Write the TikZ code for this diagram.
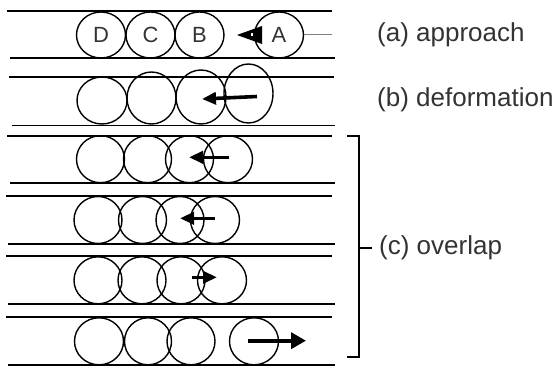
\documentclass[tikz,border=0pt]{standalone}
\usepackage{fontspec}
\setmainfont{Liberation Sans}
\usetikzlibrary{shapes.geometric,arrows.meta}
\definecolor{ink}{HTML}{333333}
\begin{document}
\begin{tikzpicture}[x=1pt,y=-1pt,
  rail/.style={line width=1.8pt},
  ball/.style={draw, ellipse, line width=1.4pt, inner sep=0pt,
    minimum width=49pt, minimum height=47pt,
    font=\fontsize{22}{24}\selectfont, text=ink},
  push/.style={line width=3.6pt, -{Triangle[length=14pt,width=12pt]}},
  bigpush/.style={line width=3.6pt, -{Triangle[length=15pt,width=16pt]}},
  lbl/.style={anchor=west, inner sep=0pt, text=ink,
    font=\fontsize{26}{30}\selectfont}]
\useasboundingbox (0,0) rectangle (555,369);

% channel walls of the six stages
\draw[rail] (7,10.7) -- (332,10.7);   \draw[rail] (10,58) -- (335,58);
\draw[rail] (9,76.7) -- (334,76.7);   \draw[rail] (12,125.5) -- (335,125.5);
\draw[rail] (7,135.7) -- (332,135.7); \draw[rail] (10,182.7) -- (335,182.7);
\draw[rail] (6,196.3) -- (332,196.3); \draw[rail] (8,244) -- (335,244);
\draw[rail] (6,256.3) -- (332,256.3); \draw[rail] (8,304.3) -- (335,304.3);
\draw[rail] (6,317.3) -- (332,317.3); \draw[rail] (8,365.3) -- (335,365.3);

% (a) approach
\node[ball, minimum height=46pt] (aD) at (101,35) {D};
\node[ball, minimum height=46pt] (aC) at (150.5,35) {C};
\node[ball, minimum height=46pt] (aB) at (199.5,35) {B};
\node[ball, minimum height=46pt] (aA) at (279,35) {A};
\coordinate (aTail) at (332,35);
\draw[gray, line width=1pt] (aA.east) -- (aTail);
\fill (237,35) -- (262,26) -- (262,44) -- cycle;
\fill[white] (251,33.5) rectangle (253,36.5);

% (b) deformation
\node[ball, minimum width=50pt, minimum height=47pt] (b1) at (102,100.5) {};
\node[ball, minimum width=49pt, minimum height=52pt] (b2) at (151.5,98) {};
\node[ball, minimum width=50pt, minimum height=54pt] (b3) at (201,97) {};
\node[ball, minimum width=49pt, minimum height=59pt] (b4) at (248.5,93.5) {};
\coordinate (bS) at (257,96.5); \coordinate (bE) at (202,99);
\draw[push] (bS) -- (bE);

% (c) overlap, first stage
\node[ball, minimum width=48pt] (c11) at (100.5,159.2) {};
\node[ball, minimum width=48pt] (c12) at (147.5,159.2) {};
\node[ball, minimum width=48pt] (c13) at (189.5,159.2) {};
\node[ball, minimum width=49pt] (c14) at (228,159.2) {};
\coordinate (c1S) at (229,157.3); \coordinate (c1E) at (189,157.3);
\draw[push] (c1S) -- (c1E);

% second stage
\node[ball, minimum width=48pt] (c21) at (98,220) {};
\node[ball, minimum width=48pt] (c22) at (142.5,220) {};
\node[ball, minimum width=48pt] (c23) at (180,220) {};
\node[ball, minimum width=49pt] (c24) at (215,220) {};
\coordinate (c2S) at (215,218.3); \coordinate (c2E) at (180,218.3);
\draw[push] (c2S) -- (c2E);

% third stage
\node[ball, minimum width=48pt] (c31) at (98,280.3) {};
\node[ball, minimum width=48pt] (c32) at (142,280.3) {};
\node[ball, minimum width=48pt] (c33) at (181,280.3) {};
\node[ball, minimum width=49pt] (c34) at (222,280.3) {};
\coordinate (c3S) at (192,277.3); \coordinate (c3E) at (217,277.3);
\draw[push] (c3S) -- (c3E);

% fourth stage
\node[ball, minimum width=49pt] (c41) at (99,341.3) {};
\node[ball, minimum width=47pt] (c42) at (148,341.3) {};
\node[ball, minimum width=48pt] (c43) at (191,341.3) {};
\node[ball, minimum width=49pt] (c44) at (254,341.3) {};
\coordinate (c4S) at (248,340.7); \coordinate (c4E) at (306,340.7);
\draw[bigpush] (c4S) -- (c4E);

% bracket grouping the overlap stages
\draw[line width=1.5pt] (347,136) -- (359,136) -- (359,357) -- (347,357);
\draw[line width=1.5pt] (359,248) -- (372,248);

% stage labels
\node[lbl] (la) at (377,35) {(a) approach};
\node[lbl] (lb) at (377,100) {(b) deformation};
\node[lbl] (lc) at (379,248) {(c) overlap};
\end{tikzpicture}
\end{document}
